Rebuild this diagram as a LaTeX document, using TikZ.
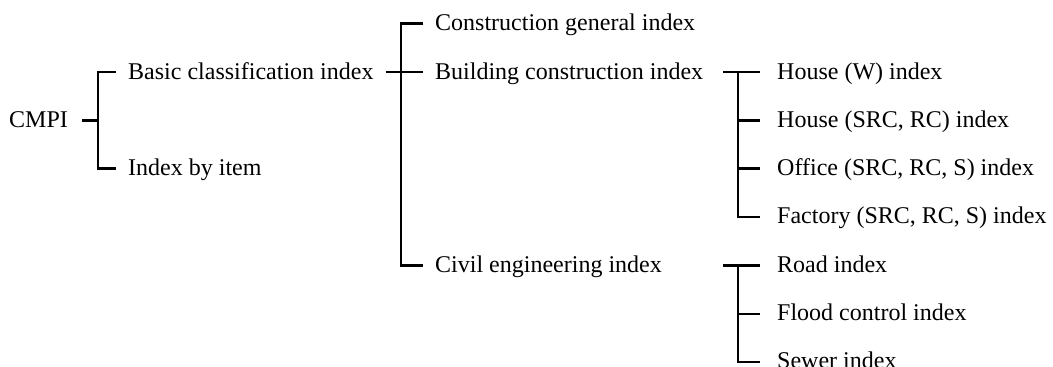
\documentclass[tikz,border=0pt]{standalone}
\usepackage{fontspec}
\newfontfamily\lserif{Liberation Serif}
\begin{document}
\begin{tikzpicture}[x=1pt,y=-1pt,
  lbl/.style={anchor=west,inner sep=0pt,text height=17pt,text depth=3pt,font=\lserif\fontsize{24}{28}\selectfont},
  wire/.style={line width=2.4pt,line cap=butt,line join=miter}]
\useasboundingbox (0,0) rectangle (1053,367);
\def\rA{23.5}\def\rB{72.2}\def\rC{120.4}\def\rD{168.6}\def\rE{216.8}\def\rF{265.5}\def\rG{313.7}\def\rH{361.9}
% nodes
\node[lbl] (cmpi) at (9,\rC) {CMPI};
\node[lbl] (basic) at (128,\rB) {Basic classification index};
\node[lbl] (item) at (128,\rD) {Index by item};
\node[lbl] (cgen) at (435,\rA) {Construction general index};
\node[lbl] (build) at (435,\rB) {Building construction index};
\node[lbl] (civil) at (435,\rF) {Civil engineering index};
\node[lbl] (hw) at (777,\rB) {House (W) index};
\node[lbl] (hsrc) at (777,\rC) {House (SRC, RC) index};
\node[lbl] (office) at (777,\rD) {Office (SRC, RC, S) index};
\node[lbl] (factory) at (777,\rE) {Factory (SRC, RC, S) index};
\node[lbl] (road) at (777,\rF) {Road index};
\node[lbl] (flood) at (777,\rG) {Flood control index};
\node[lbl] (sewer) at (777,\rH) {Sewer index};
% junctions
\coordinate (jA) at (98,\rC);
\coordinate (jB) at (401,\rB);
\coordinate (jC) at (738,\rB);
\coordinate (jD) at (738,\rF);
% level 1
\draw[wire] ([xshift=14pt]cmpi.east) -- (jA);
\draw[wire] ([xshift=-12pt]basic.west) -- (basic.west -| jA) -- (item.west -| jA) -- ([xshift=-12pt]item.west);
% level 2
\draw[wire] ([xshift=12pt]basic.east) -- (jB);
\draw[wire] ([xshift=-12pt]cgen.west) -- (cgen.west -| jB) -- (civil.west -| jB) -- ([xshift=-12pt]civil.west);
\draw[wire] (jB) -- ([xshift=-12pt]build.west);
% level 3: building
\draw[wire] (723,\rB) coordinate (sB) -- (jC) -- ([xshift=-17pt]hw.west);
\draw[wire] (jC) -- (factory.west -| jC) -- ([xshift=-17pt]factory.west);
\draw[wire] (hsrc.west -| jC) -- ([xshift=-17pt]hsrc.west);
\draw[wire] (office.west -| jC) -- ([xshift=-17pt]office.west);
% level 3: civil
\draw[wire] (723,\rF) coordinate (sD) -- (jD) -- ([xshift=-17pt]road.west);
\draw[wire] (jD) -- (sewer.west -| jD) -- ([xshift=-17pt]sewer.west);
\draw[wire] (flood.west -| jD) -- ([xshift=-17pt]flood.west);
\end{tikzpicture}
\end{document}
